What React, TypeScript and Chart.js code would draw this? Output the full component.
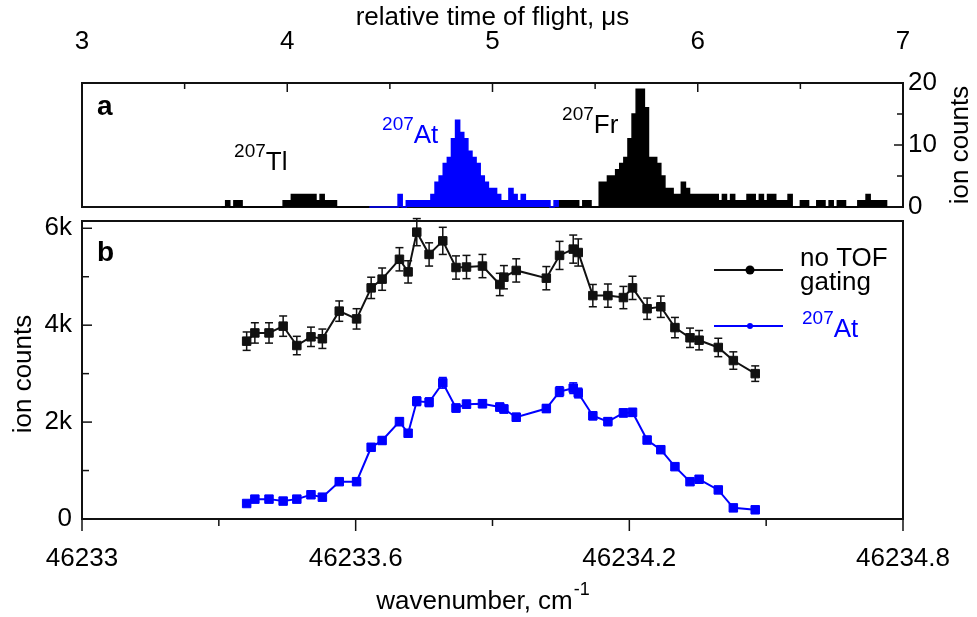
import React, { useEffect, useRef } from "react";
import { Chart, registerables } from "chart.js";

Chart.register(...registerables);

const W = 977;
const H = 617;
const FONT = '"Liberation Sans", Arial, Helvetica, sans-serif';
const BLUE = "#0000ff";
const INK = "#111111";

// ---------- panel a: time-of-flight histogram ----------
const tofBinWidth = 0.02; // μs
const tlStart = 3.68;
const tlCounts = [0, 1, 0, 1, 1, 0, 0, 0, 0, 0, 0, 0, 0, 0, 0, 1, 1, 2, 2, 2, 2, 2, 2, 1, 2, 1, 1, 1, 0, 0, 0, 0, 0, 0, 0, 0];
const atStart = 4.4;
const atCounts = [0, 0, 0, 0, 0, 0, 0, 2, 0, 1, 1, 1, 1, 1, 1, 2, 4, 5, 7, 8, 11, 14, 12, 11, 9, 8, 7, 5, 4, 3, 3, 2, 1, 1, 3, 2, 1, 2, 1, 1, 1, 1, 1, 1, 0, 1];
const frStart = 5.32;
const frCounts = [1, 1, 1, 1, 1, 0, 1, 1, 0, 0, 4, 4, 5, 5, 6, 7, 8, 11, 15, 19, 19, 16, 8, 8, 7, 5, 3, 3, 2, 2, 4, 3, 2, 2, 2, 2, 2, 2, 2, 1, 2, 1, 2, 1, 1, 1, 2, 2, 1, 2, 1, 2, 2, 1, 1, 1, 2, 0, 0, 1, 1, 0, 0, 1, 1, 0, 1, 0, 1, 1, 0, 0, 0, 1, 1, 2, 1, 1, 1, 1];
const tofTicks = [3, 4, 5, 6, 7];
const tofMinorTicks = [3.5, 4.5, 5.5, 6.5];
const tofCountTicks = [0, 10, 20];
const tofCountMinor = [5, 15];

// ---------- panel b: wavenumber scan ----------
const wavenumbers = [
  46233.361, 46233.379, 46233.41, 46233.441, 46233.471, 46233.502, 46233.527, 46233.564, 46233.602, 46233.634,
  46233.658, 46233.696, 46233.715, 46233.734, 46233.761, 46233.791, 46233.82, 46233.843, 46233.878, 46233.916,
  46233.925, 46233.952, 46234.018, 46234.047, 46234.077, 46234.088, 46234.12, 46234.153, 46234.187, 46234.207,
  46234.239, 46234.269, 46234.3, 46234.333, 46234.353, 46234.395, 46234.428, 46234.476,
];
const noGating = [
  3670, 3840, 3840, 3980, 3580, 3760, 3720, 4290, 4130, 4770, 4950, 5360, 5100, 5920, 5460, 5740, 5190, 5200, 5220,
  4840, 4990, 5130, 4970, 5440, 5570, 5500, 4610, 4610, 4570, 4770, 4340, 4380, 3950, 3740, 3690, 3540, 3270, 3000,
];
const noGatingErr = [
  190, 210, 210, 210, 190, 200, 200, 210, 210, 220, 230, 240, 230, 280, 240, 280, 240, 240, 240, 230, 240, 240, 240,
  290, 290, 280, 230, 240, 230, 240, 220, 220, 210, 200, 200, 190, 180, 160,
];
const at207 = [
  320, 410, 410, 370, 410, 500, 450, 770, 770, 1480, 1620, 2010, 1770, 2430, 2410, 2810, 2290, 2370, 2380, 2310,
  2270, 2100, 2280, 2630, 2700, 2600, 2130, 2010, 2190, 2200, 1630, 1430, 1080, 770, 820, 600, 230, 190,
];
const at207Err = [
  30, 30, 30, 30, 30, 40, 40, 50, 50, 70, 70, 80, 70, 90, 90, 110, 80, 80, 80, 80, 80, 80, 80, 100, 110,
  100, 80, 80, 80, 80, 70, 70, 60, 50, 50, 40, 30, 30,
];
const wnTicks = [46233, 46233.6, 46234.2, 46234.8];
const wnTickLabels = ["46233", "46233.6", "46234.2", "46234.8"];
const wnMinor = [46233.3, 46233.9, 46234.5];
const countTicks = [0, 2000, 4000, 6000];
const countTickLabels = ["0", "2k", "4k", "6k"];
const countMinor = [1000, 3000, 5000];

function histPoints(start: number, counts: number[]) {
  const pts = counts.map((c, i) => ({ x: start + i * tofBinWidth, y: c }));
  pts.push({ x: start + counts.length * tofBinWidth, y: 0 });
  return pts;
}

function drawIsotope(ctx: CanvasRenderingContext2D, x: number, baseY: number, mass: string, sym: string, color: string) {
  ctx.save();
  ctx.fillStyle = color;
  ctx.textAlign = "left";
  ctx.textBaseline = "alphabetic";
  ctx.font = `19px ${FONT}`;
  ctx.fillText(mass, x, baseY - 13);
  const w = ctx.measureText(mass).width;
  ctx.font = `26px ${FONT}`;
  ctx.fillText(sym, x + w, baseY);
  ctx.restore();
}

function line(ctx: CanvasRenderingContext2D, x1: number, y1: number, x2: number, y2: number) {
  ctx.beginPath();
  ctx.moveTo(x1, y1);
  ctx.lineTo(x2, y2);
  ctx.stroke();
}

const topDecor = {
  id: "topDecor",
  beforeDatasetsDraw(chart: any) {
    const { ctx, chartArea: a } = chart;
    ctx.save();
    ctx.strokeStyle = INK;
    ctx.lineWidth = 2;
    ctx.strokeRect(a.left, a.top, a.right - a.left, a.bottom - a.top);
    ctx.restore();
  },
  afterDraw(chart: any) {
    const { ctx, chartArea: a, scales } = chart;
    const x = scales.x;
    const y = scales.y;
    ctx.save();
    ctx.strokeStyle = INK;
    ctx.lineWidth = 1.5;
    tofTicks.forEach((v) => line(ctx, x.getPixelForValue(v), a.top, x.getPixelForValue(v), a.top + 9));
    tofMinorTicks.forEach((v) => line(ctx, x.getPixelForValue(v), a.top, x.getPixelForValue(v), a.top + 6));
    tofCountTicks.forEach((v) => line(ctx, a.right, y.getPixelForValue(v), a.right - 9, y.getPixelForValue(v)));
    tofCountMinor.forEach((v) => line(ctx, a.right, y.getPixelForValue(v), a.right - 6, y.getPixelForValue(v)));

    ctx.fillStyle = "#000";
    ctx.font = `26px ${FONT}`;
    ctx.textAlign = "center";
    ctx.textBaseline = "middle";
    ctx.fillText("relative time of flight, μs", (a.left + a.right) / 2, 18);

    ctx.save();
    ctx.translate(961, (a.top + a.bottom) / 2);
    ctx.rotate(-Math.PI / 2);
    ctx.fillText("ion counts", 0, 0);
    ctx.restore();

    ctx.font = `bold 28px ${FONT}`;
    ctx.textAlign = "left";
    ctx.textBaseline = "alphabetic";
    ctx.fillText("a", a.left + 15, a.top + 32);

    drawIsotope(ctx, x.getPixelForValue(3.741), y.getPixelForValue(6), "207", "Tl", "#000");
    drawIsotope(ctx, x.getPixelForValue(4.462), y.getPixelForValue(10.3), "207", "At", BLUE);
    drawIsotope(ctx, x.getPixelForValue(5.339), y.getPixelForValue(11.9), "207", "Fr", "#000");
    ctx.restore();
  },
};

const bottomDecor = {
  id: "bottomDecor",
  beforeDatasetsDraw(chart: any) {
    const { ctx, chartArea: a } = chart;
    ctx.save();
    ctx.strokeStyle = INK;
    ctx.lineWidth = 2;
    ctx.strokeRect(a.left, a.top, a.right - a.left, a.bottom - a.top);
    ctx.restore();
  },
  afterDatasetsDraw(chart: any) {
    const { ctx, scales } = chart;
    const y = scales.y;
    const sets: [number, number[], number[], string][] = [
      [0, noGating, noGatingErr, INK],
      [1, at207, at207Err, BLUE],
    ];
    ctx.save();
    ctx.lineWidth = 1.5;
    sets.forEach(([di, vals, errs, col]) => {
      const meta = chart.getDatasetMeta(di);
      ctx.strokeStyle = col;
      meta.data.forEach((pt: any, i: number) => {
        const yt = y.getPixelForValue(vals[i] + errs[i]);
        const yb = y.getPixelForValue(vals[i] - errs[i]);
        line(ctx, pt.x, yt, pt.x, yb);
        line(ctx, pt.x - 4, yt, pt.x + 4, yt);
        line(ctx, pt.x - 4, yb, pt.x + 4, yb);
      });
    });
    ctx.restore();
  },
  afterDraw(chart: any) {
    const { ctx, chartArea: a, scales } = chart;
    const x = scales.x;
    const y = scales.y;
    ctx.save();
    ctx.strokeStyle = INK;
    ctx.lineWidth = 1.5;
    countTicks.forEach((v) => line(ctx, a.left, y.getPixelForValue(v), a.left + 10, y.getPixelForValue(v)));
    countMinor.forEach((v) => line(ctx, a.left, y.getPixelForValue(v), a.left + 7, y.getPixelForValue(v)));
    wnTicks.forEach((v) => line(ctx, x.getPixelForValue(v), a.bottom, x.getPixelForValue(v), a.bottom + 12));
    wnMinor.forEach((v) => line(ctx, x.getPixelForValue(v), a.bottom, x.getPixelForValue(v), a.bottom + 7));

    ctx.fillStyle = "#000";
    ctx.font = `bold 28px ${FONT}`;
    ctx.textAlign = "left";
    ctx.textBaseline = "alphabetic";
    ctx.fillText("b", a.left + 15, a.top + 40);

    // axis titles
    ctx.textBaseline = "middle";
    const main = "wavenumber, cm";
    ctx.font = `26px ${FONT}`;
    const mw = ctx.measureText(main).width;
    ctx.font = `18px ${FONT}`;
    const sw = ctx.measureText("-1").width;
    const cx = (a.left + a.right) / 2 - 10;
    const startX = cx - (mw + sw) / 2;
    ctx.font = `26px ${FONT}`;
    ctx.fillText(main, startX, 602);
    ctx.font = `18px ${FONT}`;
    ctx.fillText("-1", startX + mw + 1, 590);

    ctx.font = `26px ${FONT}`;
    ctx.textAlign = "center";
    ctx.save();
    ctx.translate(24, (a.top + a.bottom) / 2 + 4);
    ctx.rotate(-Math.PI / 2);
    ctx.fillText("ion counts", 0, 0);
    ctx.restore();

    // legend
    ctx.lineWidth = 2;
    ctx.strokeStyle = INK;
    line(ctx, 714, 270, 783, 270);
    ctx.fillStyle = "#000";
    ctx.beginPath();
    ctx.arc(750, 270, 4.5, 0, Math.PI * 2);
    ctx.fill();
    ctx.strokeStyle = BLUE;
    line(ctx, 714, 326, 783, 326);
    ctx.fillStyle = BLUE;
    ctx.beginPath();
    ctx.arc(750, 326, 3, 0, Math.PI * 2);
    ctx.fill();

    ctx.fillStyle = "#000";
    ctx.font = `26px ${FONT}`;
    ctx.textAlign = "left";
    ctx.textBaseline = "alphabetic";
    ctx.fillText("no TOF", 800, 266);
    ctx.fillText("gating", 800, 290);
    drawIsotope(ctx, 802, 337, "207", "At", BLUE);
    ctx.restore();
  },
};

export default function App() {
  const topRef = useRef<HTMLCanvasElement>(null);
  const botRef = useRef<HTMLCanvasElement>(null);

  useEffect(() => {
    const tickFont = { family: FONT, size: 26 };
    const histDs = (start: number, counts: number[], color: string, order: number) => ({
      data: histPoints(start, counts),
      borderColor: color,
      backgroundColor: color,
      borderWidth: 1.5,
      fill: "origin",
      stepped: true,
      pointRadius: 0,
      clip: false,
      order,
    });

    const top = new Chart(topRef.current!, {
      type: "line",
      data: {
        datasets: [
          histDs(atStart, atCounts, BLUE, 0),
          histDs(tlStart, tlCounts, "#000", 1),
          histDs(frStart, frCounts, "#000", 1),
        ] as any,
      },
      options: {
        animation: false,
        responsive: false,
        devicePixelRatio: 1,
        events: [],
        layout: { padding: { left: 82, right: 0, top: 0, bottom: H - 207 } },
        plugins: { legend: { display: false }, tooltip: { enabled: false } },
        scales: {
          x: {
            type: "linear",
            position: "top",
            min: 3,
            max: 7,
            afterBuildTicks: (s: any) => {
              s.ticks = tofTicks.map((v) => ({ value: v }));
            },
            afterFit: (s: any) => {
              s.height = 83;
            },
            ticks: { font: tickFont, color: "#000", padding: 26, maxRotation: 0, autoSkip: false },
            grid: { display: false, drawTicks: false },
            border: { display: false },
          },
          y: {
            type: "linear",
            position: "right",
            min: 0,
            max: 20,
            afterBuildTicks: (s: any) => {
              s.ticks = tofCountTicks.map((v) => ({ value: v }));
            },
            afterFit: (s: any) => {
              s.width = W - 903;
            },
            ticks: { font: tickFont, color: "#000", padding: 5, autoSkip: false },
            grid: { display: false, drawTicks: false },
            border: { display: false },
          },
        },
      } as any,
      plugins: [topDecor],
    });

    const pointDs = (vals: number[], color: string, label: string) => ({
      label,
      data: wavenumbers.map((w, i) => ({ x: w, y: vals[i] })),
      borderColor: color,
      backgroundColor: color,
      borderWidth: 2,
      pointStyle: "rect",
      pointRadius: 6,
      pointBorderWidth: 1,
      pointBorderColor: color,
      pointBackgroundColor: color,
      tension: 0,
    });

    const bot = new Chart(botRef.current!, {
      type: "line",
      data: {
        datasets: [pointDs(noGating, INK, "no TOF gating"), pointDs(at207, BLUE, "207At")] as any,
      },
      options: {
        animation: false,
        responsive: false,
        devicePixelRatio: 1,
        events: [],
        layout: { padding: { left: 0, right: W - 903, top: 221, bottom: 0 } },
        plugins: { legend: { display: false }, tooltip: { enabled: false } },
        scales: {
          x: {
            type: "linear",
            position: "bottom",
            min: 46233,
            max: 46234.8,
            afterBuildTicks: (s: any) => {
              s.ticks = wnTicks.map((v) => ({ value: v }));
            },
            afterFit: (s: any) => {
              s.height = H - 519;
            },
            ticks: {
              font: tickFont,
              color: "#000",
              padding: 24,
              maxRotation: 0,
              autoSkip: false,
              callback: (_v: any, i: number) => wnTickLabels[i],
            },
            grid: { display: false, drawTicks: false },
            border: { display: false },
          },
          y: {
            type: "linear",
            position: "left",
            min: 0,
            max: 6150,
            afterBuildTicks: (s: any) => {
              s.ticks = countTicks.map((v) => ({ value: v }));
            },
            afterFit: (s: any) => {
              s.width = 82;
            },
            ticks: {
              font: tickFont,
              color: "#000",
              padding: 10,
              autoSkip: false,
              callback: (_v: any, i: number) => countTickLabels[i],
            },
            grid: { display: false, drawTicks: false },
            border: { display: false },
          },
        },
      } as any,
      plugins: [bottomDecor],
    });

    return () => {
      top.destroy();
      bot.destroy();
    };
  }, []);

  return (
    <div style={{ position: "fixed", left: 0, top: 0, width: W, height: H, background: "#fff" }}>
      <canvas ref={topRef} width={W} height={H} style={{ position: "absolute", left: 0, top: 0 }} />
      <canvas ref={botRef} width={W} height={H} style={{ position: "absolute", left: 0, top: 0 }} />
    </div>
  );
}
